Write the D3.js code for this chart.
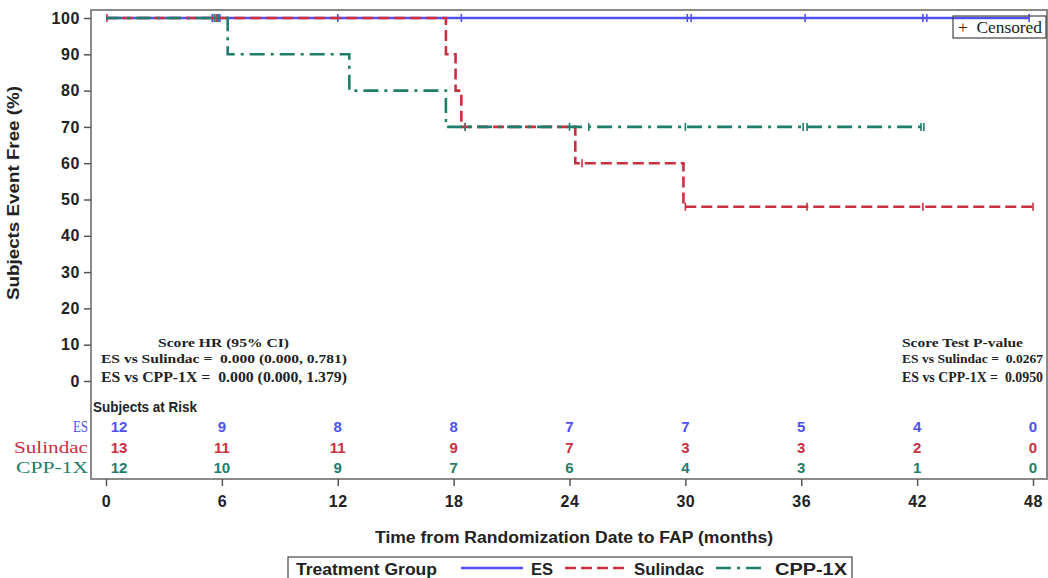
<!DOCTYPE html>
<html>
<head>
<meta charset="utf-8">
<script src="https://cdn.jsdelivr.net/npm/d3@7"></script>
<style>
  body { margin: 0; background: #fff; }
  svg { display: block; }
  text { white-space: pre; }
</style>
</head>
<body>
<div id="km"></div>
<script>
// data
const months = [0, 6, 12, 18, 24, 30, 36, 42, 48];
const yTicks = [0, 10, 20, 30, 40, 50, 60, 70, 80, 90, 100];
const groups = ['ES', 'Sulindac', 'CPP-1X'];

const esEventTimes = [];
const esEventSurv = [];
const esEnd = 47.8;
const esCensor = [5.5, 5.8, 5.9, 12.0, 18.4, 30.1, 30.3, 36.2, 42.3, 42.5, 47.8];

const sulEventTimes = [17.6, 18.1, 18.4, 24.3, 29.9];
const sulEventSurv = [90, 80, 70, 60, 48];
const sulEnd = 48.0;
const sulCensor = [0.05, 5.7, 18.6, 24.65, 30.0, 36.3, 42.3, 48.0];

const cppEventTimes = [6.3, 12.6, 17.6];
const cppEventSurv = [90, 80, 70];
const cppEnd = 42.4;
const cppCensor = [5.6, 5.8, 18.6, 24.0, 25.0, 30.0, 36.1, 36.3, 42.2, 42.35];

const esAtRisk = [12, 9, 8, 8, 7, 7, 5, 4, 0];
const sulAtRisk = [13, 11, 11, 9, 7, 3, 3, 2, 0];
const cppAtRisk = [12, 10, 9, 7, 6, 4, 3, 1, 0];

const hrTitle = 'Score HR (95% CI)';
const hrLabels = ['ES vs Sulindac', 'ES vs CPP-1X'];
const hrValues = ['0.000 (0.000, 0.781)', '0.000 (0.000, 1.379)'];
const pTitle = 'Score Test P-value';
const pValues = ['0.0267', '0.0950'];

const colors = ['#5050f2', '#c8303f', '#1f7d6c'];
const dashes = [null, '11,5', '15,6,3,6'];

const width = 1048, height = 578;
const svg = d3.select('#km').append('svg')
  .attr('width', width)
  .attr('height', height);

const x = d3.scaleLinear().domain([0, 48]).range([106, 1033]);
const y = d3.scaleLinear().domain([0, 100]).range([381, 18]);

const sans = 'Liberation Sans, Arial, sans-serif';
const serif = 'Liberation Serif, Times New Roman, serif';

// frame
svg.append('rect')
  .attr('x', 91).attr('y', 10)
  .attr('width', 956).attr('height', 469)
  .attr('fill', 'none')
  .attr('stroke', '#8a8a8a')
  .attr('stroke-width', 2);

// axes
const yAxis = svg.append('g')
  .attr('transform', 'translate(91,0)')
  .call(d3.axisLeft(y).tickValues(yTicks).tickSize(7).tickPadding(4));
yAxis.select('.domain').remove();

const xAxis = svg.append('g')
  .attr('transform', 'translate(0,479)')
  .call(d3.axisBottom(x).tickValues(months).tickSize(7).tickPadding(10));
xAxis.select('.domain').remove();

[yAxis, xAxis].forEach(a => {
  a.selectAll('line').attr('stroke', '#555').attr('stroke-width', 1.5);
  a.selectAll('text')
    .attr('font-family', sans)
    .attr('font-size', 16)
    .attr('font-weight', 'bold')
    .attr('letter-spacing', 0.6)
    .attr('fill', '#222');
});

svg.append('text')
  .attr('transform', 'translate(19,193) rotate(-90)')
  .attr('text-anchor', 'middle')
  .attr('font-family', sans)
  .attr('font-size', 16)
  .attr('font-weight', 'bold')
  .attr('fill', '#222')
  .attr('textLength', 214)
  .attr('lengthAdjust', 'spacingAndGlyphs')
  .text('Subjects Event Free (%)');

svg.append('text')
  .attr('x', 574).attr('y', 543)
  .attr('text-anchor', 'middle')
  .attr('font-family', sans)
  .attr('font-size', 16)
  .attr('font-weight', 'bold')
  .attr('fill', '#222')
  .attr('textLength', 398)
  .attr('lengthAdjust', 'spacingAndGlyphs')
  .text('Time from Randomization Date to FAP (months)');

// survival steps
const series = [
  { times: esEventTimes, surv: esEventSurv, end: esEnd, censor: esCensor },
  { times: sulEventTimes, surv: sulEventSurv, end: sulEnd, censor: sulCensor },
  { times: cppEventTimes, surv: cppEventSurv, end: cppEnd, censor: cppCensor }
];

function survAt(s, t) {
  let v = 100;
  s.times.forEach((et, i) => { if (et <= t) v = s.surv[i]; });
  return v;
}

const line = d3.line()
  .x(d => x(d[0]))
  .y(d => y(d[1]))
  .curve(d3.curveStepAfter);

series.forEach((s, i) => {
  const pts = [[0, 100]];
  s.times.forEach((t, j) => pts.push([t, s.surv[j]]));
  pts.push([s.end, survAt(s, s.end)]);

  svg.append('path')
    .datum(pts)
    .attr('d', line)
    .attr('fill', 'none')
    .attr('stroke', colors[i])
    .attr('stroke-width', 2.6)
    .attr('stroke-dasharray', dashes[i]);

  svg.append('g').selectAll('line')
    .data(s.censor)
    .enter().append('line')
    .attr('x1', d => x(d)).attr('x2', d => x(d))
    .attr('y1', d => y(survAt(s, d)) - 4)
    .attr('y2', d => y(survAt(s, d)) + 4)
    .attr('stroke', colors[i])
    .attr('stroke-width', 1.6);
});

// censored legend
svg.append('rect')
  .attr('x', 953).attr('y', 16)
  .attr('width', 93).attr('height', 22)
  .attr('fill', 'none')
  .attr('stroke', '#444')
  .attr('stroke-width', 1.2);
svg.append('text')
  .attr('x', 958).attr('y', 33)
  .attr('font-family', serif)
  .attr('font-size', 16)
  .attr('fill', '#222')
  .attr('textLength', 84)
  .attr('lengthAdjust', 'spacingAndGlyphs')
  .text('+  Censored');

// HR and p-value notes
const note = svg.append('g')
  .attr('font-family', serif)
  .attr('font-weight', 'bold')
  .attr('fill', '#222');

note.append('text')
  .attr('x', 158).attr('y', 347)
  .attr('font-size', 13)
  .attr('textLength', 131)
  .attr('lengthAdjust', 'spacingAndGlyphs')
  .text(hrTitle);
hrLabels.forEach((lab, i) => {
  note.append('text')
    .attr('x', 101).attr('y', 363 + i * 19)
    .attr('font-size', i === 0 ? 12.5 : 14)
    .attr('textLength', 246)
    .attr('lengthAdjust', 'spacingAndGlyphs')
    .text(lab + ' =  ' + hrValues[i]);
});

note.append('text')
  .attr('x', 902).attr('y', 347)
  .attr('font-size', 13)
  .attr('textLength', 121)
  .attr('lengthAdjust', 'spacingAndGlyphs')
  .text(pTitle);
hrLabels.forEach((lab, i) => {
  note.append('text')
    .attr('x', 902).attr('y', 363 + i * 19)
    .attr('font-size', i === 0 ? 12.5 : 14)
    .attr('textLength', 141)
    .attr('lengthAdjust', 'spacingAndGlyphs')
    .text(lab + ' =  ' + pValues[i]);
});

// subjects at risk
svg.append('text')
  .attr('x', 93).attr('y', 412)
  .attr('font-family', sans)
  .attr('font-size', 14)
  .attr('font-weight', 'bold')
  .attr('fill', '#222')
  .attr('textLength', 104)
  .attr('lengthAdjust', 'spacingAndGlyphs')
  .text('Subjects at Risk');

const labelLen = [15, 74, 72];
const atRisk = [esAtRisk, sulAtRisk, cppAtRisk];
atRisk.forEach((row, i) => {
  const ry = 432 + i * 20.5;
  svg.append('text')
    .attr('x', 88 - labelLen[i]).attr('y', ry)
    .attr('font-family', serif)
    .attr('font-size', 16)
    .attr('fill', colors[i])
    .attr('textLength', labelLen[i])
    .attr('lengthAdjust', 'spacingAndGlyphs')
    .text(groups[i]);
  svg.append('g').selectAll('text')
    .data(row)
    .enter().append('text')
    .attr('x', (d, j) => x(months[j]) + (d > 9 ? 13 : 0) * (months[j] === 0 ? 1 : 0))
    .attr('y', ry)
    .attr('text-anchor', 'middle')
    .attr('font-family', sans)
    .attr('font-size', 15)
    .attr('font-weight', 'bold')
    .attr('fill', colors[i])
    .text(d => d);
});

// bottom legend
const leg = svg.append('g');
leg.append('rect')
  .attr('x', 288).attr('y', 557)
  .attr('width', 564).attr('height', 24)
  .attr('fill', 'none')
  .attr('stroke', '#444')
  .attr('stroke-width', 1.2);
leg.append('text')
  .attr('x', 296).attr('y', 575)
  .attr('font-family', sans)
  .attr('font-size', 16)
  .attr('font-weight', 'bold')
  .attr('fill', '#222')
  .attr('textLength', 141)
  .attr('lengthAdjust', 'spacingAndGlyphs')
  .text('Treatment Group');

const legX = [461, 565, 716];
const legLen = [62, 61, 46];
const legTextX = [531, 634, 775];
const legTextLen = [22, 70, 72];
groups.forEach((g, i) => {
  leg.append('line')
    .attr('x1', legX[i]).attr('x2', legX[i] + legLen[i])
    .attr('y1', 568).attr('y2', 568)
    .attr('stroke', colors[i])
    .attr('stroke-width', 2.6)
    .attr('stroke-dasharray', dashes[i]);
  leg.append('text')
    .attr('x', legTextX[i]).attr('y', 575)
    .attr('font-family', sans)
    .attr('font-size', 16)
    .attr('font-weight', 'bold')
    .attr('fill', '#222')
    .attr('textLength', legTextLen[i])
    .attr('lengthAdjust', 'spacingAndGlyphs')
    .text(g);
});
</script>
</body>
</html>
